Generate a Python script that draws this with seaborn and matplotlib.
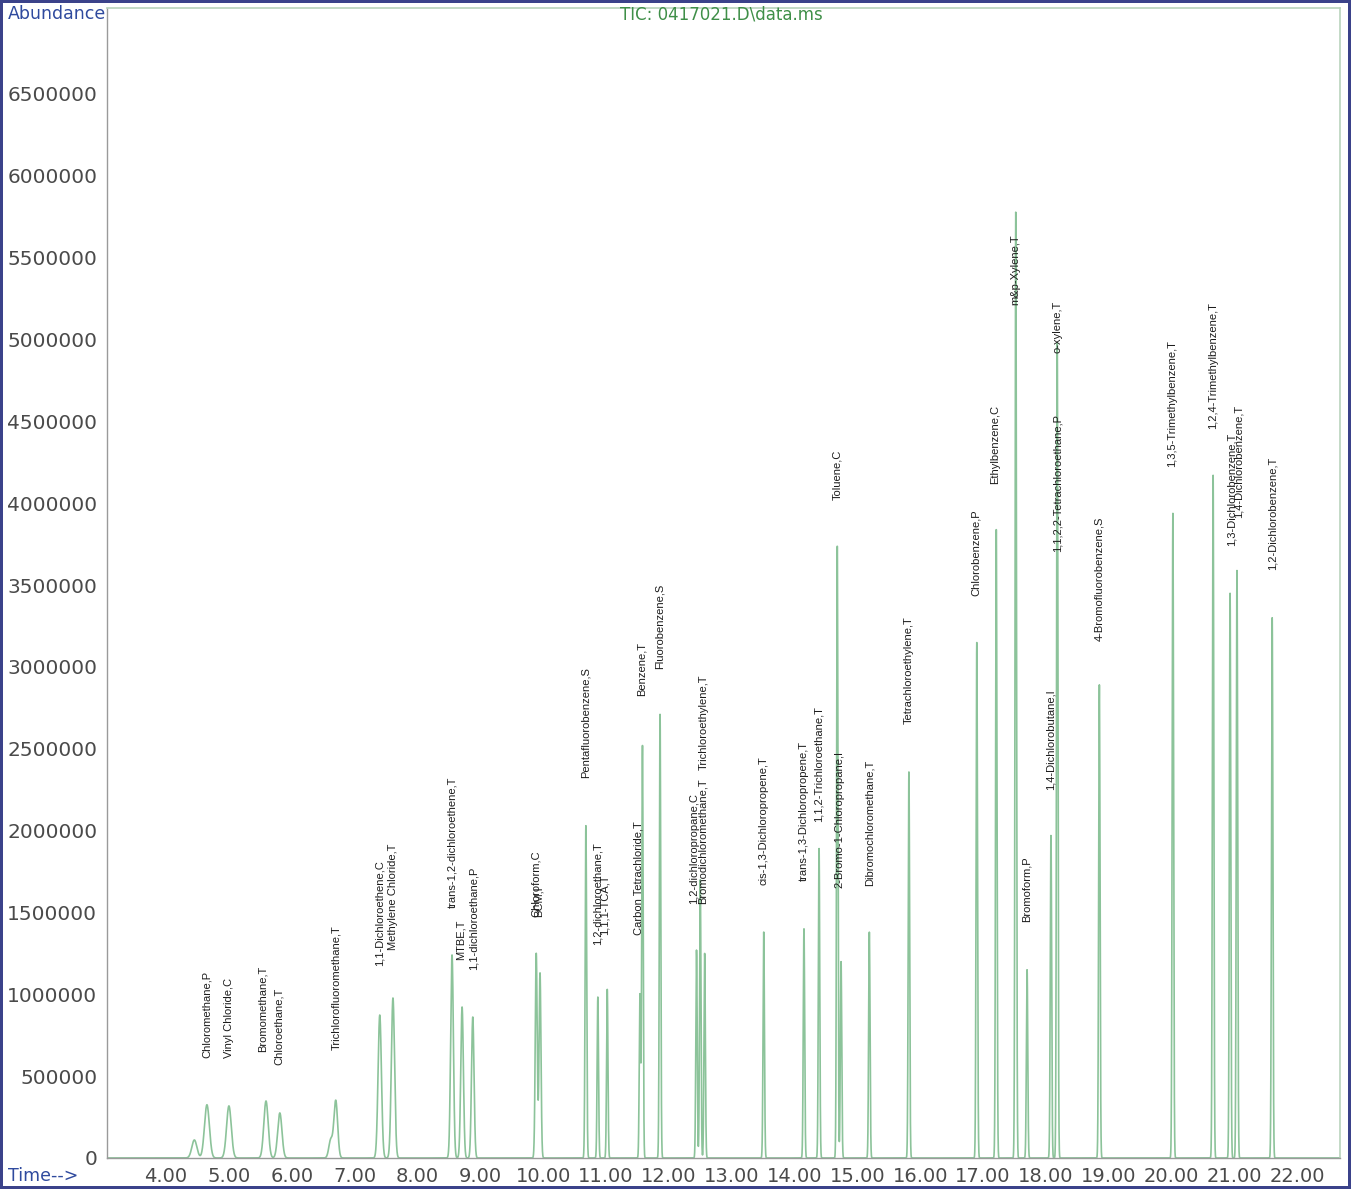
import numpy as np
import pandas as pd
import matplotlib
matplotlib.use("Agg")
import matplotlib.pyplot as plt
from matplotlib.ticker import MultipleLocator, FuncFormatter
import seaborn as sns

# Peaks (retention time in min, abundance)
peak_times = [4.45, 4.65, 5.00, 5.59, 5.81, 6.62, 6.70, 7.40, 7.61,
              8.55, 8.71, 8.88, 9.89, 9.95, 10.68, 10.87, 11.02, 11.54,
              11.58, 11.86, 12.44, 12.50, 12.57, 13.51, 14.15, 14.39,
              14.68, 14.74, 15.19, 15.82, 16.90, 17.21, 17.52, 17.70,
              18.08, 18.18, 18.85, 20.02, 20.66, 20.93, 21.04, 21.60]
peak_heights = [110000, 325000, 318000, 348000, 275000, 110000, 350000,
                873000, 977000, 1240000, 922000, 861000, 1250000, 1130000,
                2030000, 983000, 1030000, 1000000, 2520000, 2710000,
                1270000, 1700000, 1250000, 1380000, 1400000, 1890000,
                3740000, 1200000, 1380000, 2360000, 3150000, 3840000,
                5780000, 1150000, 1970000, 4980000, 2890000,
                3940000, 4170000, 3450000, 3590000, 3300000]

# Compound annotations: name, x position (min), bottom of text (abundance)
label_names = ["Chloromethane,P", "Vinyl Chloride,C", "Bromomethane,T",
               "Chloroethane,T", "Trichlorofluoromethane,T",
               "1,1-Dichloroethene,C", "Methylene Chloride,T",
               "trans-1,2-dichloroethene,T", "MTBE,T", "1,1-dichloroethane,P",
               "Chloroform,C", "BCM,I", "Pentafluorobenzene,S",
               "1,2-dichloroethane,T", "1,1,1-TCA,T", "Carbon Tetrachloride,T",
               "Benzene,T", "Fluorobenzene,S", "1,2-dichloropropane,C",
               "Bromodichloromethane,T", "Trichloroethylene,T",
               "cis-1,3-Dichloropropene,T", "trans-1,3-Dichloropropene,T",
               "1,1,2-Trichloroethane,T", "Toluene,C",
               "2-Bromo-1-Chloropropane,I", "Dibromochloromethane,T",
               "Tetrachloroethylene,T", "Chlorobenzene,P", "Ethylbenzene,C",
               "m&p-Xylene,T", "Bromoform,P", "1,4-Dichlorobutane,I",
               "1,1,2,2-Tetrachloroethane,P", "o-xylene,T",
               "4-Bromofluorobenzene,S", "1,3,5-Trimethylbenzene,T",
               "1,2,4-Trimethylbenzene,T", "1,3-Dichlorobenzene,T",
               "1,4-Dichlorobenzene,T", "1,2-Dichlorobenzene,T"]
label_times = [4.65, 5.00, 5.54, 5.80, 6.70, 7.39, 7.61, 8.55, 8.69, 8.90,
               9.89, 9.93, 10.68, 10.86, 10.97, 11.51, 11.56, 11.86, 12.40,
               12.54, 12.55, 13.51, 14.15, 14.39, 14.68, 14.72, 15.19, 15.81,
               16.89, 17.19, 17.52, 17.70, 18.08, 18.18, 18.18, 18.85, 20.01,
               20.66, 20.95, 21.06, 21.60]
label_bases = [611000, 611000, 648000, 568000, 660000, 1170000, 1270000,
               1530000, 1210000, 1150000, 1470000, 1470000, 2320000, 1300000,
               1360000, 1360000, 2820000, 2990000, 1550000, 1550000, 2370000,
               1670000, 1690000, 2050000, 4020000, 1650000, 1660000, 2650000,
               3430000, 4120000, 5210000, 1440000, 2250000, 3700000, 4920000,
               3160000, 4220000, 4450000, 3740000, 3910000, 3590000]

# build the trace as a sum of peaks (narrower peaks later in the run)
time = np.linspace(3.06, 22.68, 20000)
signal = np.zeros_like(time)
for t0, h in zip(peak_times, peak_heights):
    sigma = max(0.011, 0.06 - 0.0045 * t0)
    signal += h * np.exp(-0.5 * ((time - t0) / sigma) ** 2)
df = pd.DataFrame({"time": time, "abundance": signal})

sns.set_theme(style="white")
plt.rcParams["font.family"] = ["Liberation Sans", "DejaVu Sans"]

fig = plt.figure(figsize=(13.51, 11.89), dpi=100, linewidth=4, edgecolor="#3b428a")
ax = fig.add_axes([0.0792, 0.0261, 0.9127, 0.9672])

sns.lineplot(data=df, x="time", y="abundance", color="#8cc39a", linewidth=1.2,
             estimator=None, ax=ax)

for name, t, b in zip(label_names, label_times, label_bases):
    ax.text(t, b, name, rotation=90, ha="center", va="bottom", fontsize=8,
            color="#1c1c1c")

ax.set_xlim(3.06, 22.68)
ax.set_ylim(0, 7025000)
ax.set_xlabel("")
ax.set_ylabel("")

ax.xaxis.set_major_locator(MultipleLocator(1.0))
ax.xaxis.set_minor_locator(MultipleLocator(0.2))
ax.yaxis.set_major_locator(MultipleLocator(500000))
ax.yaxis.set_minor_locator(MultipleLocator(100000))
ax.xaxis.set_major_formatter(FuncFormatter(lambda v, p: f"{v:.2f}" if v >= 3.5 else ""))
ax.yaxis.set_major_formatter(FuncFormatter(lambda v, p: f"{int(v)}" if v < 6.8e6 else ""))

ax.tick_params(axis="x", which="major", direction="inout", length=7, width=1,
               color="#8a8a8a", labelsize=14, labelcolor="#4a4a4a", pad=3)
ax.tick_params(axis="x", which="minor", direction="inout", length=4, width=0.8,
               color="#8a8a8a")
ax.tick_params(axis="y", which="major", direction="out", length=5, width=1,
               color="#8a8a8a", labelsize=14.5, labelcolor="#4a4a4a", pad=2)
ax.tick_params(axis="y", which="minor", direction="out", length=2.5,
               color="#8a8a8a")
for lbl in ax.get_xticklabels() + ax.get_yticklabels():
    lbl.set_family("DejaVu Sans")

for side in ["left", "bottom"]:
    ax.spines[side].set_color("#9a9a9a")
    ax.spines[side].set_linewidth(1)
for side in ["top", "right"]:
    ax.spines[side].set_color("#b9d3bc")
    ax.spines[side].set_linewidth(1.2)

fig.text(0.006, 0.988, "Abundance", color="#2f4a9e", fontsize=12.5,
         ha="left", va="center", family="DejaVu Sans")
fig.text(0.534, 0.988, "TIC: 0417021.D\\data.ms", color="#3f8f48", fontsize=12,
         ha="center", va="center", family="DejaVu Sans")
fig.text(0.006, 0.011, "Time-->", color="#2f4a9e", fontsize=12.5,
         ha="left", va="center", family="DejaVu Sans")

plt.savefig("out.png", dpi=100, edgecolor=fig.get_edgecolor())
